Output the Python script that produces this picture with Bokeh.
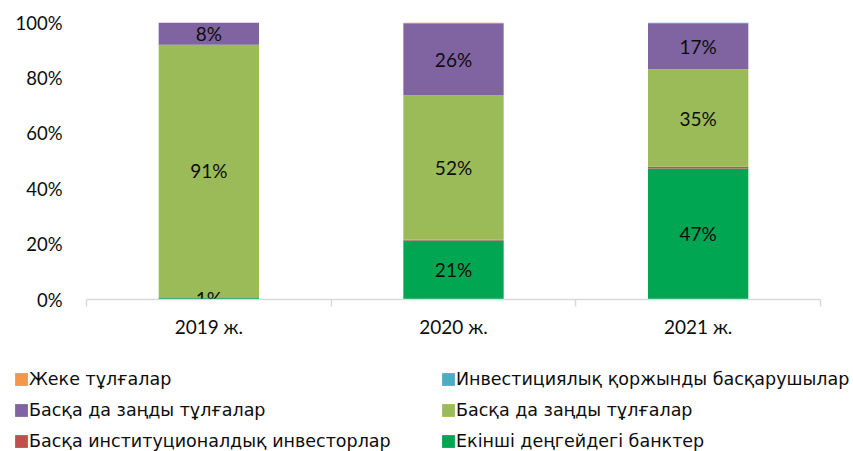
from bokeh.plotting import figure
from bokeh.layouts import column
from bokeh.models import (ColumnDataSource, Range1d, LinearAxis, FixedTicker,
                          PrintfTickFormatter, CustomJSTickFormatter, Legend, LegendItem)
from bokeh.core.properties import value
from bokeh.embed import file_html
from bokeh.resources import INLINE

# ---- data ----
years = ["2019 ж.", "2020 ж.", "2021 ж."]
banks = [0.7, 21.3, 47.3]          # Екінші деңгейдегі банктер
inst_investors = [0.1, 0.3, 0.6]   # Басқа институционалдық инвесторлар
legal_olive = [91.2, 52.1, 35.2]   # Басқа да заңды тұлғалар (olive)
legal_purple = [8.0, 26.0, 16.6]   # Басқа да заңды тұлғалар (purple)
fund_managers = [0.0, 0.0, 0.3]    # Инвестициялық қоржынды басқарушылар
individuals = [0.0, 0.3, 0.0]      # Жеке тұлғалар

series_keys = ["banks", "inst", "olive", "purple", "funds", "indiv"]
series_vals = [banks, inst_investors, legal_olive, legal_purple, fund_managers, individuals]
series_names = ["Екінші деңгейдегі банктер", "Басқа институционалдық инвесторлар",
                "Басқа да заңды тұлғалар", "Басқа да заңды тұлғалар",
                "Инвестициялық қоржынды басқарушылар", "Жеке тұлғалар"]
series_colors = ["#00A651", "#C0504D", "#9BBB59", "#8064A2", "#4BACC6", "#F79646"]
labelled = ["banks", "olive", "purple"]
y_ticks = [0, 20, 40, 60, 80, 100]

x_pos = [i + 0.5 for i in range(len(years))]
data = {"x": x_pos}
for k, v in zip(series_keys, series_vals):
    data[k] = v
src = ColumnDataSource(data)

TXT = "#0d0d0d"
GRID = "#D9D9D9"
FONT = "Lato"
W = 853
H_MAIN = 340
H_LEG = 111

p = figure(width=W, height=H_MAIN, output_backend="svg", toolbar_location=None,
           x_range=Range1d(0, len(years)), y_range=Range1d(0, 100),
           min_border_left=86, min_border_right=33, min_border_top=22,
           min_border_bottom=H_MAIN - 300, x_axis_type=None, y_axis_type=None)
p.outline_line_color = None
p.background_fill_color = "white"
p.border_fill_color = "white"
p.frame_align = False

p.vbar_stack(series_keys, x="x", width=0.41, source=src,
             color=series_colors, line_width=0)

# y axis
yax = LinearAxis(ticker=FixedTicker(ticks=y_ticks),
                 formatter=PrintfTickFormatter(format="%d%%"))
yax.axis_line_color = None
yax.major_tick_line_color = None
yax.minor_tick_line_color = None
yax.major_tick_out = 0
yax.major_label_standoff = 24
yax.major_label_text_font = FONT
yax.major_label_text_font_size = "18.5px"
yax.major_label_text_color = TXT
p.add_layout(yax, "left")

# x axis
xax = LinearAxis(ticker=FixedTicker(ticks=x_pos, minor_ticks=list(range(len(years) + 1))),
                 formatter=CustomJSTickFormatter(args=dict(labels=years),
                                                 code="const i = Math.floor(tick); return (i >= 0 && i < labels.length) ? labels[i] : '';"))
xax.axis_line_color = GRID
xax.axis_line_width = 1.5
xax.major_tick_line_color = None
xax.major_tick_out = 0
xax.minor_tick_line_color = GRID
xax.minor_tick_line_width = 1.5
xax.minor_tick_out = 7
xax.minor_tick_in = 0
xax.major_label_standoff = 8
xax.major_label_text_font = FONT
xax.major_label_text_font_size = "19px"
xax.major_label_text_color = TXT
p.add_layout(xax, "below")

p.ygrid.ticker = FixedTicker(ticks=y_ticks)
p.ygrid.grid_line_color = GRID
p.ygrid.grid_line_width = 1.5
p.xgrid.grid_line_color = None

# value labels at segment centers
lx, ly, lt = [], [], []
for i in range(len(years)):
    base = 0.0
    for k, v in zip(series_keys, series_vals):
        if k in labelled:
            lx.append(x_pos[i])
            ly.append(base + v[i] / 2)
            lt.append(f"{round(v[i])}%")
        base += v[i]
lsrc = ColumnDataSource(dict(x=lx, y=ly, t=lt))
p.text(x="x", y="y", text="t", source=lsrc, text_align="center",
       text_baseline="middle", text_font=value(FONT), text_font_size="19px",
       text_color=TXT)

# ---- legend figure (same series, kept well outside its visible range) ----
q = figure(width=W, height=H_LEG, output_backend="svg", toolbar_location=None,
           x_range=Range1d(-10, -7), y_range=Range1d(-200, -100),
           min_border_left=0, min_border_right=0, min_border_top=0, min_border_bottom=0,
           x_axis_type=None, y_axis_type=None)
q.outline_line_color = None
q.xgrid.grid_line_color = None
q.ygrid.grid_line_color = None
q.border_fill_color = "white"
q.background_fill_color = "white"
q.frame_align = False

q_rs = q.vbar_stack(series_keys, x="x", width=0.41, source=src,
                    color=series_colors, line_width=0)
lrmap = dict(zip(series_keys, q_rs))

def make_legend(keys, loc):
    items = [LegendItem(label=series_names[series_keys.index(k)], renderers=[lrmap[k]])
             for k in keys]
    lg = Legend(items=items, location=loc, orientation="vertical")
    lg.padding = 0
    lg.margin = 0
    lg.spacing = 10
    lg.glyph_width = 16
    lg.glyph_height = 16
    lg.label_height = 21
    lg.label_standoff = 0
    lg.label_text_font = "DejaVu Sans"
    lg.label_text_font_size = "17.5px"
    lg.label_text_color = TXT
    lg.label_text_baseline = "middle"
    lg.background_fill_alpha = 0
    lg.border_line_alpha = 0
    return lg

q.add_layout(make_legend(["indiv", "purple", "inst"], (13, 0)), "center")
q.add_layout(make_legend(["funds", "olive", "banks"], (440, 0)), "center")

layout = column(p, q, spacing=0)
open("out.html", "w").write(file_html(layout, INLINE))
